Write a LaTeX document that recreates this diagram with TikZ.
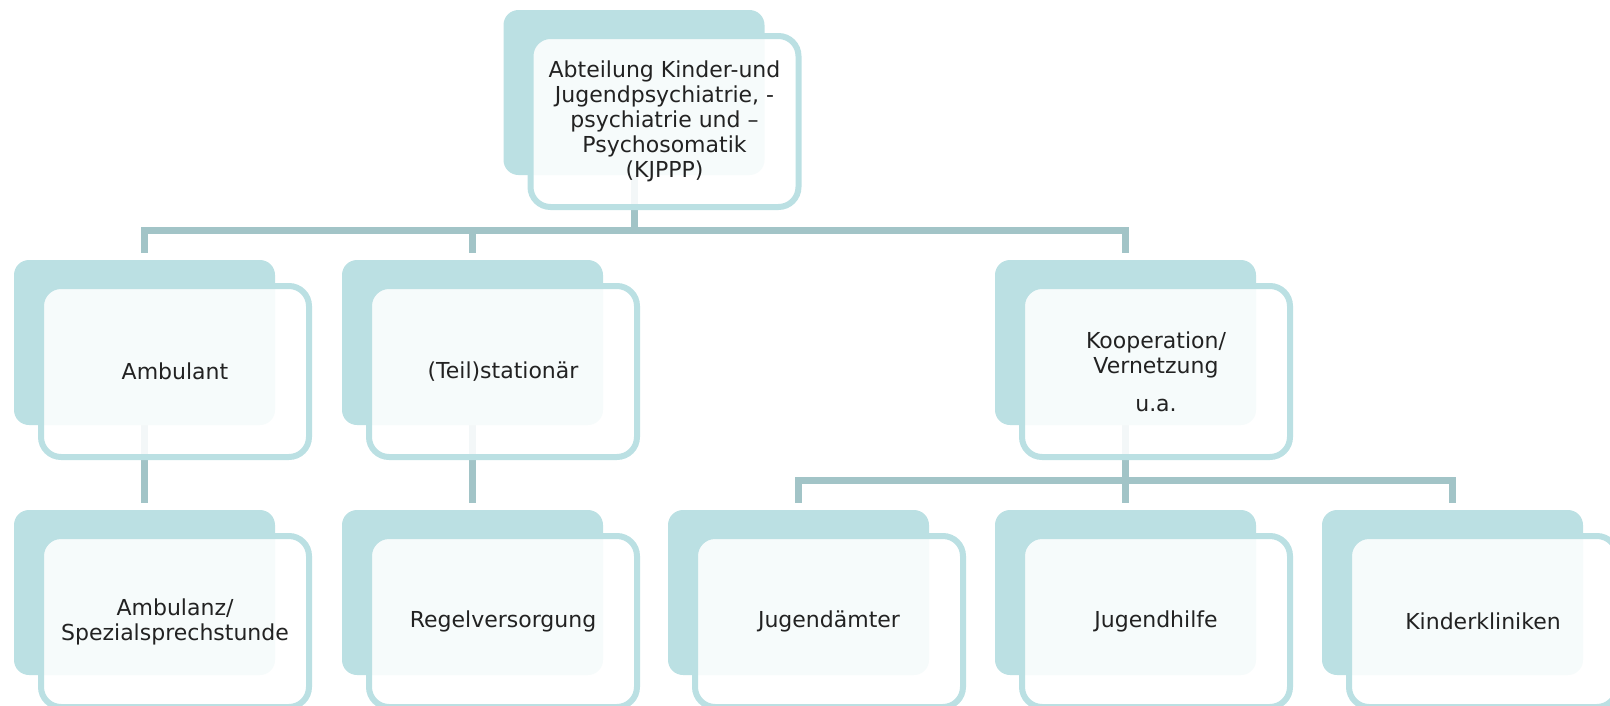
\documentclass[tikz,border=0pt]{standalone}
\usepackage{fontspec}
\setmainfont{DejaVu Sans}
\usepackage{tikz}
\usetikzlibrary{positioning,calc,backgrounds}
\definecolor{boxteal}{RGB}{187,224,227}
\definecolor{linkgray}{RGB}{162,196,199}
\definecolor{textgray}{RGB}{34,34,34}

\begin{document}
\begin{tikzpicture}[x=1pt, y=-1pt,
					backbox/.style={
						fill=boxteal, draw=none, inner sep=0pt,
						minimum width=261pt, minimum height=165pt,
						rounded corners=15pt
					},
					frontbox/.style={
						draw=boxteal, line width=6pt, fill=white, fill opacity=0.88,
						text opacity=1, text=textgray, align=center, inner sep=0pt,
						minimum width=268pt, minimum height=171pt,
						rounded corners=20pt, xshift=30.5pt, yshift=-29pt,
						font=\fontsize{22}{25}\selectfont
					},
					link/.style={draw=linkgray, line width=7pt}
					]
					\useasboundingbox (0,0) rectangle (1610,705);
					% hintere Flächen
					\node[backbox] (abtB)   at (634,92.5)    {};
					\node[backbox] (ambB)   at (144.5,342.5) {};
					\node[backbox] (statB)  at (472.5,342.5) {};
					\node[backbox] (koopB)  at (1125.5,342.5) {};
					\node[backbox] (ambzB)  at (144.5,592.5) {};
					\node[backbox] (regelB) at (472.5,592.5) {};
					\node[backbox] (jamtB)  at (798.5,592.5) {};
					\node[backbox] (jhilfB) at (1125.5,592.5) {};
					\node[backbox] (kinkB)  at (1452.5,592.5) {};
					% vordere Kästen mit Text
					\node[frontbox] (abt)   at (abtB)   {Abteilung Kinder-und\\Jugendpsychiatrie, -\\psychiatrie und –\\Psychosomatik\\(KJPPP)};
					\node[frontbox] (amb)   at (ambB)   {Ambulant};
					\node[frontbox] (stat)  at (statB)  {(Teil)stationär};
					\node[frontbox] (koop)  at (koopB)  {Kooperation/\\Vernetzung\\[13pt]u.a.};
					\node[frontbox] (ambz)  at (ambzB)  {Ambulanz/\\Spezialsprechstunde};
					\node[frontbox] (regel) at (regelB) {Regelversorgung};
					\node[frontbox] (jamt)  at (jamtB)  {Jugendämter};
					\node[frontbox] (jhilf) at (jhilfB) {Jugendhilfe};
					\node[frontbox] (kink)  at (kinkB)  {Kinderkliniken};
					% Verbindungen
					\coordinate (bus1) at (0,230);
					\coordinate (bus2) at (0,480);
					\begin{scope}[on background layer]
						\foreach \c in {ambB,statB,koopB}
							\draw[link] (abtB.south) -- (abtB.south |- bus1) -| ([yshift=7pt]\c.north);
						\foreach \c in {jamtB,jhilfB,kinkB}
							\draw[link] (koopB.south) -- (koopB.south |- bus2) -| ([yshift=7pt]\c.north);
						\draw[link] (ambB.south) -- ([yshift=7pt]ambzB.north);
						\draw[link] (statB.south) -- ([yshift=7pt]regelB.north);
					\end{scope}
				\end{tikzpicture}
\end{document}
